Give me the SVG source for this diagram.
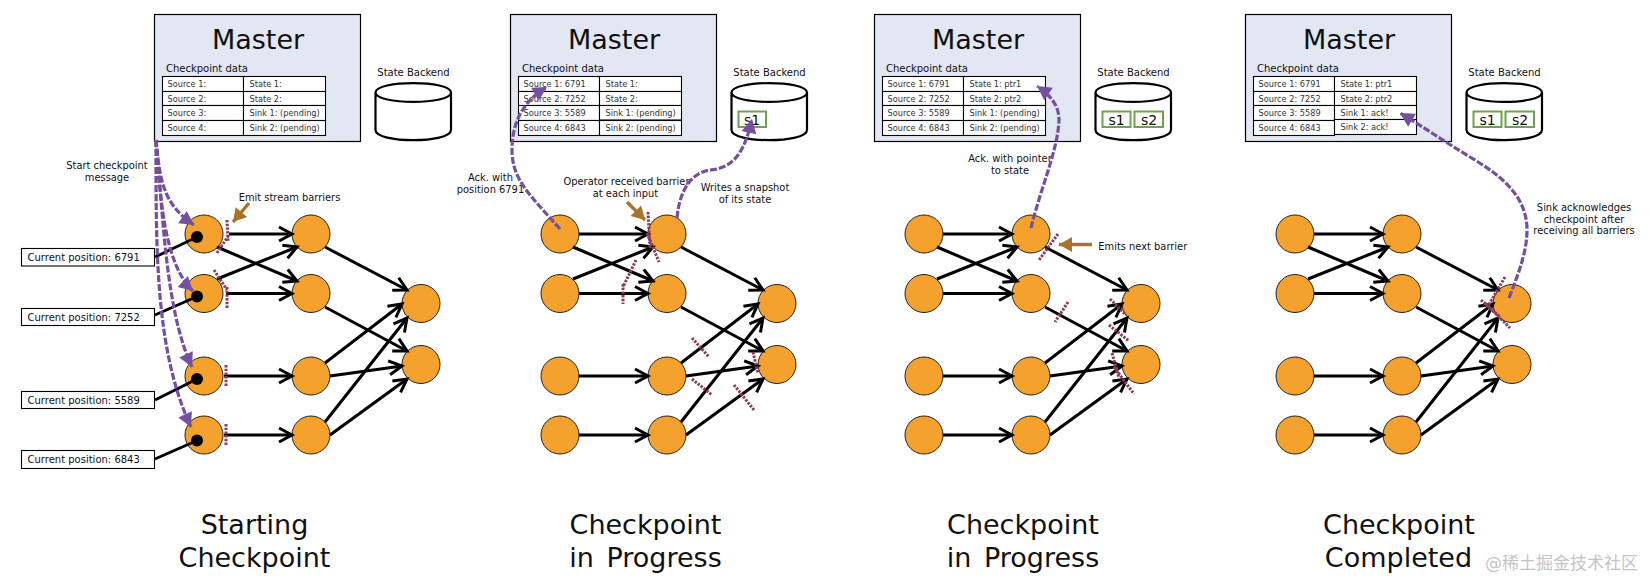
<svg xmlns="http://www.w3.org/2000/svg" width="1651" height="579" viewBox="0 0 1651 579">
<defs>
<marker id="open" markerUnits="userSpaceOnUse" markerWidth="20" markerHeight="20" refX="15" refY="10" orient="auto"><path d="M2 3 L15 10 L2 17" fill="none" stroke="#000" stroke-width="3"/></marker>
<marker id="pur" markerUnits="userSpaceOnUse" markerWidth="20" markerHeight="20" refX="15" refY="10" orient="auto"><path d="M1 2.5 L15 10 L1 17.5 Z" fill="#74509f"/></marker>
<marker id="bro" markerUnits="userSpaceOnUse" markerWidth="20" markerHeight="20" refX="14" refY="10" orient="auto"><path d="M1 2.5 L14 10 L1 17.500 Z" fill="#a8732c"/></marker>
</defs>
<style>
text{font-family:"DejaVu Sans","Noto Sans CJK SC",sans-serif;fill:#111}
.m{fill:#e2e7f3;stroke:#000;stroke-width:1.2}
.c{fill:#f4a22d;stroke:#222;stroke-width:1}
.t{fill:#fff;stroke:#000;stroke-width:1.1}
.b{fill:#fff;stroke:#000;stroke-width:1.1}
.cy{fill:#fff;stroke:#000;stroke-width:2.2}
.s{fill:none;stroke:#70a34f;stroke-width:2}
.dot{fill:#000}
.mt{font-size:27px;text-anchor:middle}
.cd{font-size:10px}
.tt{font-size:8.2px;fill:#333}
.bt{font-size:10px}
.a{font-size:9.9px;text-anchor:middle}
.sl{font-size:14px;text-anchor:middle}
.ti{font-size:27px;text-anchor:middle}
.ws{word-spacing:4px}
.wm{font-size:17px;fill:#c4c4c4}
.e{stroke:#000;stroke-width:3;fill:none;marker-end:url(#open)}
.l{stroke:#000;stroke-width:3;fill:none}
.p{stroke:#74509f;stroke-width:3.2;fill:none;stroke-dasharray:7 2;marker-end:url(#pur)}
.br{stroke:#a8732c;stroke-width:3.4;fill:none;marker-end:url(#bro)}
.d{stroke:#8c3b5d;stroke-width:3;fill:none;stroke-dasharray:2.4 1.3}
</style>

<g id="panel1">
<g id="p1-master"><rect class="m" x="154.5" y="14.5" width="206" height="127"/><text class="mt" x="258" y="49">Master</text><text class="cd" x="166" y="72">Checkpoint data</text>
<rect class="t" x="162.5" y="76.5" width="81" height="15"/><rect class="t" x="243.5" y="76.5" width="82" height="15"/><rect class="t" x="162.5" y="91.5" width="81" height="14"/><rect class="t" x="243.5" y="91.5" width="82" height="14"/><rect class="t" x="162.5" y="105.5" width="81" height="15"/><rect class="t" x="243.5" y="105.5" width="82" height="15"/><rect class="t" x="162.5" y="120.5" width="81" height="15"/><rect class="t" x="243.5" y="120.5" width="82" height="15"/>
<text class="tt" x="167.5" y="87">Source 1:</text><text class="tt" x="249.5" y="87">State 1:</text><text class="tt" x="167.5" y="102">Source 2:</text><text class="tt" x="249.5" y="102">State 2:</text><text class="tt" x="167.5" y="116">Source 3:</text><text class="tt" x="249.5" y="116">Sink 1: (pending)</text><text class="tt" x="167.5" y="131">Source 4:</text><text class="tt" x="249.5" y="131">Sink 2: (pending)</text></g>
<g id="p1-backend"><path class="cy" d="M375.5 92.5 C375.5 80 451 80 451 92.5 L451 130 C451 143.5 375.5 143.5 375.5 130 Z M375.5 92.5 C375.5 105 451 105 451 92.5"/><text class="a" x="413.5" y="76" style="font-size:10px">State Backend</text></g>
<g id="p1-a1"><circle class="c" cx="204" cy="234" r="19"/></g><g id="p1-a2"><circle class="c" cx="204" cy="293.5" r="19"/></g><g id="p1-a3"><circle class="c" cx="204" cy="376" r="19"/></g><g id="p1-a4"><circle class="c" cx="204" cy="435" r="19"/></g>
<g id="p1-b1"><circle class="c" cx="311" cy="234" r="19"/></g><g id="p1-b2"><circle class="c" cx="311" cy="293.5" r="19"/></g><g id="p1-b3"><circle class="c" cx="311" cy="376" r="19"/></g><g id="p1-b4"><circle class="c" cx="311" cy="435" r="19"/></g>
<g id="p1-s1"><circle class="c" cx="421" cy="303.5" r="19"/></g><g id="p1-s2"><circle class="c" cx="421" cy="364.5" r="19"/></g>
<g id="p1-pos1"><rect class="b" x="21.5" y="248.5" width="133" height="17.5"/><text class="bt" x="27.5" y="261">Current position: 6791</text></g>
<g id="p1-pos2"><rect class="b" x="21.5" y="308.5" width="133" height="17"/><text class="bt" x="27.5" y="321">Current position: 7252</text></g>
<g id="p1-pos3"><rect class="b" x="21.5" y="391.5" width="133" height="17"/><text class="bt" x="27.5" y="404">Current position: 5589</text></g>
<g id="p1-pos4"><rect class="b" x="21.5" y="450.5" width="133" height="18"/><text class="bt" x="27.5" y="463">Current position: 6843</text></g>
<text class="a" x="107" y="169">Start checkpoint</text><text class="a" x="107" y="181">message</text>
<text class="a" x="289.5" y="201">Emit stream barriers</text>
<text class="ti" x="254.5" y="534">Starting</text><text class="ti" x="254.5" y="566.5">Checkpoint</text>
</g>

<g id="panel2">
<g transform="translate(356,0)">
<g id="p2-master"><rect class="m" x="154.5" y="14.5" width="206" height="127"/><text class="mt" x="258" y="49">Master</text><text class="cd" x="166" y="72">Checkpoint data</text>
<rect class="t" x="162.5" y="76.5" width="81" height="15"/><rect class="t" x="243.5" y="76.5" width="82" height="15"/><rect class="t" x="162.5" y="91.5" width="81" height="14"/><rect class="t" x="243.5" y="91.5" width="82" height="14"/><rect class="t" x="162.5" y="105.5" width="81" height="15"/><rect class="t" x="243.5" y="105.5" width="82" height="14.5"/><rect class="t" x="162.5" y="120.5" width="81" height="15"/><rect class="t" x="243.5" y="120.5" width="82" height="15"/>
<text class="tt" x="167.5" y="87">Source 1: 6791</text><text class="tt" x="249.5" y="87">State 1:</text><text class="tt" x="167.5" y="102">Source 2: 7252</text><text class="tt" x="249.5" y="102">State 2:</text><text class="tt" x="167.5" y="116">Source 3: 5589</text><text class="tt" x="249.5" y="116">Sink 1: (pending)</text><text class="tt" x="167.5" y="131">Source 4: 6843</text><text class="tt" x="249.5" y="131">Sink 2: (pending)</text></g>
<g id="p2-backend"><path class="cy" d="M375.5 92.5 C375.5 80 451 80 451 92.5 L451 130 C451 143.5 375.5 143.5 375.5 130 Z M375.5 92.5 C375.5 105 451 105 451 92.5"/><text class="a" x="413.5" y="76" style="font-size:10px">State Backend</text><rect class="s" x="382.5" y="111.5" width="27.5" height="15.5"/><text class="sl" x="396" y="125">s1</text></g>
<g id="p2-a1"><circle class="c" cx="204" cy="234" r="19"/></g><g id="p2-a2"><circle class="c" cx="204" cy="293.5" r="19"/></g><g id="p2-a3"><circle class="c" cx="204" cy="376" r="19"/></g><g id="p2-a4"><circle class="c" cx="204" cy="435" r="19"/></g>
<g id="p2-b1"><circle class="c" cx="311" cy="234" r="19"/></g><g id="p2-b2"><circle class="c" cx="311" cy="293.5" r="19"/></g><g id="p2-b3"><circle class="c" cx="311" cy="376" r="19"/></g><g id="p2-b4"><circle class="c" cx="311" cy="435" r="19"/></g>
<g id="p2-s1"><circle class="c" cx="421" cy="303.5" r="19"/></g><g id="p2-s2"><circle class="c" cx="421" cy="364.5" r="19"/></g>
</g>
<text class="a" x="490.5" y="181">Ack. with</text><text class="a" x="490.5" y="192.7">position 6791</text>
<text class="a" x="626.5" y="185">Operator received barrier</text><text class="a" x="625.5" y="197">at each input</text>
<text class="a" x="745" y="191">Writes a snapshot</text><text class="a" x="745" y="202.7">of its state</text>
<text class="ti" x="645.5" y="534">Checkpoint</text><text class="ti ws" x="645.5" y="566.5">in Progress</text>
</g>

<g id="panel3">
<g transform="translate(720,0)">
<g id="p3-master"><rect class="m" x="154.5" y="14.5" width="206" height="127"/><text class="mt" x="258" y="49">Master</text><text class="cd" x="166" y="72">Checkpoint data</text>
<rect class="t" x="162.5" y="76.5" width="81" height="15"/><rect class="t" x="243.5" y="76.5" width="82" height="15"/><rect class="t" x="162.5" y="91.5" width="81" height="14"/><rect class="t" x="243.5" y="91.5" width="82" height="14"/><rect class="t" x="162.5" y="105.5" width="81" height="15"/><rect class="t" x="243.5" y="105.5" width="82" height="15"/><rect class="t" x="162.5" y="120.5" width="81" height="15"/><rect class="t" x="243.5" y="120.5" width="82" height="15"/>
<text class="tt" x="167.5" y="87">Source 1: 6791</text><text class="tt" x="249.5" y="87">State 1: ptr1</text><text class="tt" x="167.5" y="102">Source 2: 7252</text><text class="tt" x="249.5" y="102">State 2: ptr2</text><text class="tt" x="167.5" y="116">Source 3: 5589</text><text class="tt" x="249.5" y="116">Sink 1: (pending)</text><text class="tt" x="167.5" y="131">Source 4: 6843</text><text class="tt" x="249.5" y="131">Sink 2: (pending)</text></g>
<g id="p3-backend"><path class="cy" d="M375.5 92.5 C375.5 80 451 80 451 92.5 L451 130 C451 143.5 375.5 143.5 375.5 130 Z M375.5 92.5 C375.5 105 451 105 451 92.5"/><text class="a" x="413.5" y="76" style="font-size:10px">State Backend</text><rect class="s" x="382.5" y="111.5" width="28" height="15.5"/><text class="sl" x="396.5" y="125">s1</text><rect class="s" x="414.5" y="111.5" width="28.5" height="15.5"/><text class="sl" x="429" y="125">s2</text></g>
<g id="p3-a1"><circle class="c" cx="204" cy="234" r="19"/></g><g id="p3-a2"><circle class="c" cx="204" cy="293.5" r="19"/></g><g id="p3-a3"><circle class="c" cx="204" cy="376" r="19"/></g><g id="p3-a4"><circle class="c" cx="204" cy="435" r="19"/></g>
<g id="p3-b1"><circle class="c" cx="311" cy="234" r="19"/></g><g id="p3-b2"><circle class="c" cx="311" cy="293.5" r="19"/></g><g id="p3-b3"><circle class="c" cx="311" cy="376" r="19"/></g><g id="p3-b4"><circle class="c" cx="311" cy="435" r="19"/></g>
<g id="p3-s1"><circle class="c" cx="421" cy="303.5" r="19"/></g><g id="p3-s2"><circle class="c" cx="421" cy="364.5" r="19"/></g>
</g>
<text class="a" x="1010" y="162">Ack. with pointer</text><text class="a" x="1010" y="174">to state</text>
<text class="a" style="text-anchor:start" x="1098.3" y="250">Emits next barrier</text>
<text class="ti" x="1023" y="534">Checkpoint</text><text class="ti ws" x="1023" y="566.5">in Progress</text>
</g>

<g id="panel4">
<g transform="translate(1091,0)">
<g id="p4-master"><rect class="m" x="154.5" y="14.5" width="206" height="127"/><text class="mt" x="258" y="49">Master</text><text class="cd" x="166" y="72">Checkpoint data</text>
<rect class="t" x="162.5" y="76.5" width="81" height="15"/><rect class="t" x="243.5" y="76.5" width="82" height="15"/><rect class="t" x="162.5" y="91.5" width="81" height="14"/><rect class="t" x="243.5" y="91.5" width="82" height="14"/><rect class="t" x="162.5" y="105.5" width="81" height="15"/><rect class="t" x="243.5" y="105.5" width="82" height="14"/><rect class="t" x="162.5" y="120.5" width="81" height="15"/><rect class="t" x="243.5" y="119.5" width="82" height="15"/>
<text class="tt" x="167.5" y="87">Source 1: 6791</text><text class="tt" x="249.5" y="87">State 1: ptr1</text><text class="tt" x="167.5" y="102">Source 2: 7252</text><text class="tt" x="249.5" y="102">State 2: ptr2</text><text class="tt" x="167.5" y="116">Source 3: 5589</text><text class="tt" x="249.5" y="116">Sink 1: ack!</text><text class="tt" x="167.5" y="131">Source 4: 6843</text><text class="tt" x="249.5" y="130">Sink 2: ack!</text></g>
<g id="p4-backend"><path class="cy" d="M375.5 92.5 C375.5 80 451 80 451 92.5 L451 130 C451 143.5 375.5 143.5 375.5 130 Z M375.5 92.5 C375.5 105 451 105 451 92.5"/><text class="a" x="413.5" y="76" style="font-size:10px">State Backend</text><rect class="s" x="382.5" y="111.5" width="28" height="15.5"/><text class="sl" x="396.5" y="125">s1</text><rect class="s" x="414.5" y="111.5" width="28.5" height="15.5"/><text class="sl" x="429" y="125">s2</text></g>
<g id="p4-a1"><circle class="c" cx="204" cy="234" r="19"/></g><g id="p4-a2"><circle class="c" cx="204" cy="293.5" r="19"/></g><g id="p4-a3"><circle class="c" cx="204" cy="376" r="19"/></g><g id="p4-a4"><circle class="c" cx="204" cy="435" r="19"/></g>
<g id="p4-b1"><circle class="c" cx="311" cy="234" r="19"/></g><g id="p4-b2"><circle class="c" cx="311" cy="293.5" r="19"/></g><g id="p4-b3"><circle class="c" cx="311" cy="376" r="19"/></g><g id="p4-b4"><circle class="c" cx="311" cy="435" r="19"/></g>
<g id="p4-s1"><circle class="c" cx="421" cy="303.5" r="19"/></g><g id="p4-s2"><circle class="c" cx="421" cy="364.5" r="19"/></g>
</g>
<text class="a" x="1584" y="211">Sink acknowledges</text><text class="a" x="1584" y="222.5">checkpoint after</text><text class="a" x="1584" y="234">receiving all barriers</text>
<text class="ti" x="1399" y="534">Checkpoint</text><text class="ti" x="1398.5" y="566.5">Completed</text>
<text class="wm" x="1485" y="569">@稀土掘金技术社区</text>
</g>

<g id="connectors">
<g id="edges1">
<path class="e" d="M229 234H292"/><path class="e" d="M217 247L297 281"/><path class="e" d="M217 279L297 247"/><path class="e" d="M226 293.5H292"/><path class="e" d="M224 376H292"/><path class="e" d="M224 435H292"/>
<path class="e" d="M325 247L407 290"/><path class="e" d="M325 307L407 351"/><path class="e" d="M325 363L402 304"/><path class="e" d="M330 376L402 366"/><path class="e" d="M325 422L407 318"/><path class="e" d="M330 435L407 379"/>
<path class="l" d="M155 257L197 237M155 315L197 296.5M155 400L197 379M155 459L197 440.5"/>
<circle class="dot" cx="197" cy="237" r="6"/><circle class="dot" cx="197" cy="296.5" r="6"/><circle class="dot" cx="197" cy="379" r="6"/><circle class="dot" cx="197" cy="440.5" r="6"/>
</g>
<g id="edges2" transform="translate(356,0)">
<path class="e" d="M223 234H292"/><path class="e" d="M217 247L297 281"/><path class="e" d="M217 279L297 247"/><path class="e" d="M223 293.5H292"/><path class="e" d="M223 376H292"/><path class="e" d="M223 435H292"/>
<path class="e" d="M325 247L407 290"/><path class="e" d="M325 307L407 351"/><path class="e" d="M325 363L402 304"/><path class="e" d="M330 376L402 366"/><path class="e" d="M325 422L407 318"/><path class="e" d="M330 435L407 379"/>
</g>
<g id="edges3" transform="translate(720,0)">
<path class="e" d="M223 234H292"/><path class="e" d="M217 247L297 281"/><path class="e" d="M217 279L297 247"/><path class="e" d="M223 293.5H292"/><path class="e" d="M223 376H292"/><path class="e" d="M223 435H292"/>
<path class="e" d="M325 247L407 290"/><path class="e" d="M325 307L407 351"/><path class="e" d="M325 363L402 304"/><path class="e" d="M330 376L402 366"/><path class="e" d="M325 422L407 318"/><path class="e" d="M330 435L407 379"/>
</g>
<g id="edges4" transform="translate(1091,0)">
<path class="e" d="M223 234H292"/><path class="e" d="M217 247L297 281"/><path class="e" d="M217 279L297 247"/><path class="e" d="M223 293.5H292"/><path class="e" d="M223 376H292"/><path class="e" d="M223 435H292"/>
<path class="e" d="M325 247L407 290"/><path class="e" d="M325 307L407 351"/><path class="e" d="M325 363L402 304"/><path class="e" d="M330 376L402 366"/><path class="e" d="M325 422L407 318"/><path class="e" d="M330 435L407 379"/>
</g>
<g id="barriers">
<path class="d" d="M227 220L228 242M217 253L229 235M214 270L227 290M227 287V308M226 365V386M226 424V446"/>
<path class="d" d="M648 212L650 248M647 233L659 262M636 260L623 287M623 284V304M692 338L709 357M692 379L712 395M734 385L754 410M753 352L758 373"/>
<path class="d" d="M1058 234L1039 260M1068 302L1055 322M1110 299L1126 315M1109 325L1129 341M1112 353L1119 378M1114 367L1134 394"/>
<path class="d" d="M1505 277L1488 306M1481 300L1500 317M1485 303L1510 328"/>
</g>
<g id="acks">
<path class="p" d="M156 140C160 185 165 205 194 225"/>
<path class="p" d="M156 140C160 200 165 265 193 291"/>
<path class="p" d="M156 140C163 210 165 310 192 367"/>
<path class="p" d="M156 140C156 250 155 350 191 427"/>
<path class="p" d="M560 229C530 195 512 180 512 150C512 120 525 100 547 87"/>
<path class="p" d="M677 218C680 185 695 172 710 170C735 168 745 150 752 119"/>
<path class="p" d="M1031 228C1040 190 1058 150 1059 120C1059 105 1050 95 1037 86"/>
<path class="p" d="M1509 298C1520 270 1527 250 1527 230C1527 195 1500 175 1470 157C1445 142 1425 128 1400 113"/>
</g>
<g id="notes">
<path class="br" d="M249 203L233 222"/>
<path class="br" d="M627 202L645 220"/>
<path class="br" d="M1092 244.5H1059"/>
</g>
</g>
</svg>
